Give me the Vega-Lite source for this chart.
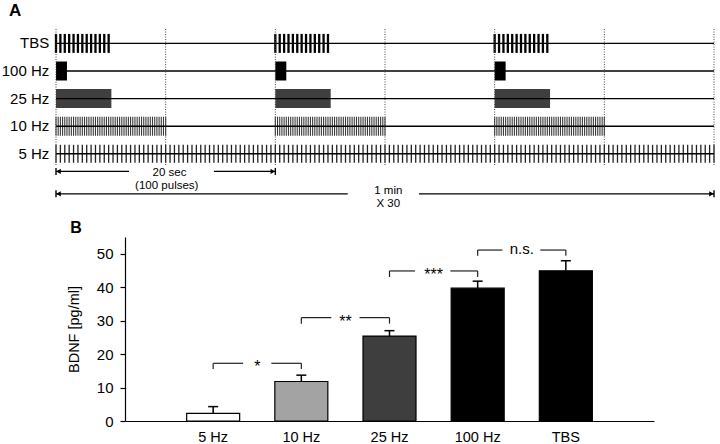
{
  "$schema": "https://vega.github.io/schema/vega-lite/v6.json",
  "background": "white",
  "padding": {"left": 1, "top": 1, "right": 0, "bottom": 0},
  "spacing": 10,
  "config": {
    "view": {"stroke": null},
    "font": "Liberation Sans",
    "text": {"font": "Liberation Sans", "color": "#000"},
    "axisX": {"labels": false, "ticks": false, "grid": false, "domainColor": "#000", "domainWidth": 1.2},
    "axisY": {"grid": false, "tickSize": 5, "labelPadding": 7, "titlePadding": 15, "labelFontSize": 15, "titleFontSize": 14.5, "titleFontWeight": "normal",
              "domainColor": "#000", "tickColor": "#000", "labelColor": "#000", "titleColor": "#000", "domainWidth": 1.2, "tickWidth": 1.2,
              "labelFont": "Liberation Sans", "titleFont": "Liberation Sans", "labelOverlap": false}
  },
  "datasets": {
    "lanes": [{"s": "TBS", "lane": 1}, {"s": "100 Hz", "lane": 2}, {"s": "25 Hz", "lane": 3}, {"s": "10 Hz", "lane": 4}, {"s": "5 Hz", "lane": 5}],
    "blocks": [
      {"s": "100 Hz", "lane": 2, "t0": 0, "t1": 1}, {"s": "100 Hz", "lane": 2, "t0": 20, "t1": 21}, {"s": "100 Hz", "lane": 2, "t0": 40, "t1": 41},
      {"s": "25 Hz", "lane": 3, "t0": 0, "t1": 5.05}, {"s": "25 Hz", "lane": 3, "t0": 20, "t1": 25.05}, {"s": "25 Hz", "lane": 3, "t0": 40, "t1": 45.05}
    ],
    "tbs": [{"t":0},{"t":0.4},{"t":0.8},{"t":1.2},{"t":1.6},{"t":2},{"t":2.4},{"t":2.8},{"t":3.2},{"t":3.6},{"t":4},{"t":4.4},{"t":4.8},
      {"t":20},{"t":20.4},{"t":20.8},{"t":21.2},{"t":21.6},{"t":22},{"t":22.4},{"t":22.8},{"t":23.2},{"t":23.6},{"t":24},{"t":24.4},{"t":24.8},
      {"t":40},{"t":40.4},{"t":40.8},{"t":41.2},{"t":41.6},{"t":42},{"t":42.4},{"t":42.8},{"t":43.2},{"t":43.6},{"t":44},{"t":44.4},{"t":44.8}],
    "hz10": [{"t":0},{"t":0.2},{"t":0.4},{"t":0.6},{"t":0.8},{"t":1},{"t":1.2},{"t":1.4},{"t":1.6},{"t":1.8},{"t":2},{"t":2.2},{"t":2.4},{"t":2.6},{"t":2.8},{"t":3},{"t":3.2},{"t":3.4},{"t":3.6},{"t":3.8},{"t":4},{"t":4.2},{"t":4.4},{"t":4.6},{"t":4.8},{"t":5},{"t":5.2},{"t":5.4},{"t":5.6},{"t":5.8},{"t":6},{"t":6.2},{"t":6.4},{"t":6.6},{"t":6.8},{"t":7},{"t":7.2},{"t":7.4},{"t":7.6},{"t":7.8},{"t":8},{"t":8.2},{"t":8.4},{"t":8.6},{"t":8.8},{"t":9},{"t":9.2},{"t":9.4},{"t":9.6},{"t":9.8},{"t":10},
      {"t":20},{"t":20.2},{"t":20.4},{"t":20.6},{"t":20.8},{"t":21},{"t":21.2},{"t":21.4},{"t":21.6},{"t":21.8},{"t":22},{"t":22.2},{"t":22.4},{"t":22.6},{"t":22.8},{"t":23},{"t":23.2},{"t":23.4},{"t":23.6},{"t":23.8},{"t":24},{"t":24.2},{"t":24.4},{"t":24.6},{"t":24.8},{"t":25},{"t":25.2},{"t":25.4},{"t":25.6},{"t":25.8},{"t":26},{"t":26.2},{"t":26.4},{"t":26.6},{"t":26.8},{"t":27},{"t":27.2},{"t":27.4},{"t":27.6},{"t":27.8},{"t":28},{"t":28.2},{"t":28.4},{"t":28.6},{"t":28.8},{"t":29},{"t":29.2},{"t":29.4},{"t":29.6},{"t":29.8},{"t":30},
      {"t":40},{"t":40.2},{"t":40.4},{"t":40.6},{"t":40.8},{"t":41},{"t":41.2},{"t":41.4},{"t":41.6},{"t":41.8},{"t":42},{"t":42.2},{"t":42.4},{"t":42.6},{"t":42.8},{"t":43},{"t":43.2},{"t":43.4},{"t":43.6},{"t":43.8},{"t":44},{"t":44.2},{"t":44.4},{"t":44.6},{"t":44.8},{"t":45},{"t":45.2},{"t":45.4},{"t":45.6},{"t":45.8},{"t":46},{"t":46.2},{"t":46.4},{"t":46.6},{"t":46.8},{"t":47},{"t":47.2},{"t":47.4},{"t":47.6},{"t":47.8},{"t":48},{"t":48.2},{"t":48.4},{"t":48.6},{"t":48.8},{"t":49},{"t":49.2},{"t":49.4},{"t":49.6},{"t":49.8},{"t":50}],
    "hz5": [{"t":0},{"t":0.4},{"t":0.8},{"t":1.2},{"t":1.6},{"t":2},{"t":2.4},{"t":2.8},{"t":3.2},{"t":3.6},{"t":4},{"t":4.4},{"t":4.8},{"t":5.2},{"t":5.6},{"t":6},{"t":6.4},{"t":6.8},{"t":7.2},{"t":7.6},{"t":8},{"t":8.4},{"t":8.8},{"t":9.2},{"t":9.6},{"t":10},{"t":10.4},{"t":10.8},{"t":11.2},{"t":11.6},{"t":12},{"t":12.4},{"t":12.8},{"t":13.2},{"t":13.6},{"t":14},{"t":14.4},{"t":14.8},{"t":15.2},{"t":15.6},{"t":16},{"t":16.4},{"t":16.8},{"t":17.2},{"t":17.6},{"t":18},{"t":18.4},{"t":18.8},{"t":19.2},{"t":19.6},{"t":20},{"t":20.4},{"t":20.8},{"t":21.2},{"t":21.6},{"t":22},{"t":22.4},{"t":22.8},{"t":23.2},{"t":23.6},{"t":24},{"t":24.4},{"t":24.8},{"t":25.2},{"t":25.6},{"t":26},{"t":26.4},{"t":26.8},{"t":27.2},{"t":27.6},{"t":28},{"t":28.4},{"t":28.8},{"t":29.2},{"t":29.6},{"t":30},{"t":30.4},{"t":30.8},{"t":31.2},{"t":31.6},{"t":32},{"t":32.4},{"t":32.8},{"t":33.2},{"t":33.6},{"t":34},{"t":34.4},{"t":34.8},{"t":35.2},{"t":35.6},{"t":36},{"t":36.4},{"t":36.8},{"t":37.2},{"t":37.6},{"t":38},{"t":38.4},{"t":38.8},{"t":39.2},{"t":39.6},{"t":40},{"t":40.4},{"t":40.8},{"t":41.2},{"t":41.6},{"t":42},{"t":42.4},{"t":42.8},{"t":43.2},{"t":43.6},{"t":44},{"t":44.4},{"t":44.8},{"t":45.2},{"t":45.6},{"t":46},{"t":46.4},{"t":46.8},{"t":47.2},{"t":47.6},{"t":48},{"t":48.4},{"t":48.8},{"t":49.2},{"t":49.6},{"t":50},{"t":50.4},{"t":50.8},{"t":51.2},{"t":51.6},{"t":52},{"t":52.4},{"t":52.8},{"t":53.2},{"t":53.6},{"t":54},{"t":54.4},{"t":54.8},{"t":55.2},{"t":55.6},{"t":56},{"t":56.4},{"t":56.8},{"t":57.2},{"t":57.6},{"t":58},{"t":58.4},{"t":58.8},{"t":59.2},{"t":59.6},{"t":60}],
    "grid10": [{"t":0},{"t":10},{"t":20},{"t":30},{"t":40},{"t":50},{"t":60}],
    "arrows": [{"a":0,"b":6.66,"lv":5.64},{"a":14.4,"b":20,"lv":5.64},{"a":0,"b":26.6,"lv":6.45},{"a":33.1,"b":60,"lv":6.45}],
    "heads": [{"t":0,"lv":5.64,"dir":"left"},{"t":20,"lv":5.64,"dir":"right"},{"t":0,"lv":6.45,"dir":"left"},{"t":60,"lv":6.45,"dir":"right"}],
    "notes": [{"t":10.35,"lv":5.69,"txt":"20 sec"},{"t":10.1,"lv":6.16,"txt":"(100 pulses)"},{"t":30.3,"lv":6.35,"txt":"1 min"},{"t":30.3,"lv":6.82,"txt":"X 30"}],
    "bdnf": [
      {"cond":"5 Hz","pos":1,"mean":2.3,"hi":4.3},
      {"cond":"10 Hz","pos":2,"mean":11.8,"hi":13.7},
      {"cond":"25 Hz","pos":3,"mean":25.4,"hi":27.0},
      {"cond":"100 Hz","pos":4,"mean":39.7,"hi":41.8},
      {"cond":"TBS","pos":5,"mean":44.9,"hi":47.9}
    ],
    "brk": [
      {"x":1,"x2":1,"y":15.55,"y2":17.25},{"x":1,"x2":1.34,"y":17.25,"y2":17.25},{"x":1.66,"x2":2,"y":17.25,"y2":17.25},{"x":2,"x2":2,"y":17.25,"y2":15.55},
      {"x":2,"x2":2,"y":29.1,"y2":30.9},{"x":2,"x2":2.34,"y":30.9,"y2":30.9},{"x":2.66,"x2":3,"y":30.9,"y2":30.9},{"x":3,"x2":3,"y":30.9,"y2":29.1},
      {"x":3,"x2":3,"y":43.05,"y2":44.85},{"x":3,"x2":3.29,"y":44.85,"y2":44.85},{"x":3.69,"x2":4,"y":44.85,"y2":44.85},{"x":4,"x2":4,"y":44.85,"y2":43.05},
      {"x":4,"x2":4,"y":49.4,"y2":51.1},{"x":4,"x2":4.28,"y":51.1,"y2":51.1},{"x":4.71,"x2":5,"y":51.1,"y2":51.1},{"x":5,"x2":5,"y":51.1,"y2":49.4}
    ],
    "sig": [{"x":1.5,"y":17.25,"txt":"*"},{"x":2.5,"y":30.9,"txt":"**"},{"x":3.5,"y":44.85,"txt":"***"},{"x":4.5,"y":51.1,"txt":"n.s."}]
  },
  "vconcat": [
    {
      "width": 589,
      "height": 207,
      "layer": [
        {
          "data": {"name": "blocks"},
          "transform": [{"filter": "datum.s == '100 Hz'"}],
          "mark": {"type": "bar", "orient": "horizontal", "size": 19, "color": "#000"},
          "encoding": {
            "x": {"field": "t0", "type": "quantitative", "scale": {"domain": [0, 60], "range": [-69, 589], "nice": false, "zero": false, "padding": 0}, "axis": null},
            "x2": {"field": "t1"},
            "y": {"field": "lane", "type": "quantitative", "scale": {"domain": [-0.5, 7], "reverse": true, "nice": false, "zero": false, "padding": 0}, "axis": null}
          }
        },
        {
          "data": {"name": "blocks"},
          "transform": [{"filter": "datum.s == '25 Hz'"}],
          "mark": {"type": "bar", "orient": "horizontal", "size": 19, "color": "#3f3f3f"},
          "encoding": {
            "x": {"field": "t0", "type": "quantitative", "scale": {"domain": [0, 60], "range": [-69, 589], "nice": false, "zero": false, "padding": 0}, "axis": null},
            "x2": {"field": "t1"},
            "y": {"field": "lane", "type": "quantitative", "scale": {"domain": [-0.5, 7], "reverse": true, "nice": false, "zero": false, "padding": 0}, "axis": null}
          }
        },
        {
          "data": {"name": "tbs"},
          "mark": {"type": "tick", "orient": "vertical", "size": 19, "thickness": 2.3, "color": "#000", "opacity": 1},
          "encoding": {
            "x": {"field": "t", "type": "quantitative", "scale": {"domain": [0, 60], "range": [-69, 589], "nice": false, "zero": false, "padding": 0}, "axis": null},
            "y": {"datum": 1, "type": "quantitative", "scale": {"domain": [-0.5, 7], "reverse": true, "nice": false, "zero": false, "padding": 0}, "axis": null}
          }
        },
        {
          "data": {"name": "hz10"},
          "mark": {"type": "tick", "orient": "vertical", "size": 19, "thickness": 1.1, "color": "#3a3a3a", "opacity": 1},
          "encoding": {
            "x": {"field": "t", "type": "quantitative", "scale": {"domain": [0, 60], "range": [-69, 589], "nice": false, "zero": false, "padding": 0}, "axis": null},
            "y": {"datum": 4, "type": "quantitative", "scale": {"domain": [-0.5, 7], "reverse": true, "nice": false, "zero": false, "padding": 0}, "axis": null}
          }
        },
        {
          "data": {"name": "hz5"},
          "mark": {"type": "tick", "orient": "vertical", "size": 18, "thickness": 1.3, "color": "#222", "opacity": 1},
          "encoding": {
            "x": {"field": "t", "type": "quantitative", "scale": {"domain": [0, 60], "range": [-69, 589], "nice": false, "zero": false, "padding": 0}, "axis": null},
            "y": {"datum": 5, "type": "quantitative", "scale": {"domain": [-0.5, 7], "reverse": true, "nice": false, "zero": false, "padding": 0}, "axis": null}
          }
        },
        {
          "data": {"name": "lanes"},
          "mark": {"type": "rule", "color": "#000", "strokeWidth": 1.4},
          "encoding": {
            "x": {"datum": 0, "type": "quantitative", "scale": {"domain": [0, 60], "range": [-69, 589], "nice": false, "zero": false, "padding": 0}, "axis": null},
            "x2": {"datum": 60},
            "y": {"field": "lane", "type": "quantitative", "scale": {"domain": [-0.5, 7], "reverse": true, "nice": false, "zero": false, "padding": 0}, "axis": null}
          }
        },
        {
          "data": {"name": "grid10"},
          "mark": {"type": "rule", "color": "#444", "strokeWidth": 1, "strokeDash": [1, 1.5]},
          "encoding": {
            "x": {"field": "t", "type": "quantitative", "scale": {"domain": [0, 60], "range": [-69, 589], "nice": false, "zero": false, "padding": 0}, "axis": null},
            "y": {"datum": 0.48, "type": "quantitative", "scale": {"domain": [-0.5, 7], "reverse": true, "nice": false, "zero": false, "padding": 0}, "axis": null},
            "y2": {"datum": 5.45}
          }
        },
        {
          "data": {"name": "lanes"},
          "mark": {"type": "text", "align": "right", "baseline": "middle", "fontSize": 15},
          "encoding": {
            "x": {"datum": -0.61, "type": "quantitative", "scale": {"domain": [0, 60], "range": [-69, 589], "nice": false, "zero": false, "padding": 0}, "axis": null},
            "y": {"field": "lane", "type": "quantitative", "scale": {"domain": [-0.5, 7], "reverse": true, "nice": false, "zero": false, "padding": 0}, "axis": null},
            "text": {"field": "s"}
          }
        },
        {
          "data": {"values": [{"txt": "A"}]},
          "mark": {"type": "text", "align": "left", "baseline": "middle", "fontSize": 17, "fontWeight": "bold"},
          "encoding": {
            "x": {"datum": -4.29, "type": "quantitative", "scale": {"domain": [0, 60], "range": [-69, 589], "nice": false, "zero": false, "padding": 0}, "axis": null},
            "y": {"datum": -0.19, "type": "quantitative", "scale": {"domain": [-0.5, 7], "reverse": true, "nice": false, "zero": false, "padding": 0}, "axis": null},
            "text": {"field": "txt"}
          }
        },
        {
          "data": {"name": "arrows"},
          "mark": {"type": "rule", "color": "#000", "strokeWidth": 1.2},
          "encoding": {
            "x": {"field": "a", "type": "quantitative", "scale": {"domain": [0, 60], "range": [-69, 589], "nice": false, "zero": false, "padding": 0}, "axis": null},
            "x2": {"field": "b"},
            "y": {"field": "lv", "type": "quantitative", "scale": {"domain": [-0.5, 7], "reverse": true, "nice": false, "zero": false, "padding": 0}, "axis": null}
          }
        },
        {
          "data": {"name": "heads"},
          "transform": [{"filter": "datum.dir == 'left'"}],
          "mark": {"type": "point", "shape": "triangle-left", "filled": true, "size": 28, "color": "#000", "opacity": 1, "xOffset": 2.5},
          "encoding": {
            "x": {"field": "t", "type": "quantitative", "scale": {"domain": [0, 60], "range": [-69, 589], "nice": false, "zero": false, "padding": 0}, "axis": null},
            "y": {"field": "lv", "type": "quantitative", "scale": {"domain": [-0.5, 7], "reverse": true, "nice": false, "zero": false, "padding": 0}, "axis": null}
          }
        },
        {
          "data": {"name": "heads"},
          "transform": [{"filter": "datum.dir == 'right'"}],
          "mark": {"type": "point", "shape": "triangle-right", "filled": true, "size": 28, "color": "#000", "opacity": 1, "xOffset": -2.5},
          "encoding": {
            "x": {"field": "t", "type": "quantitative", "scale": {"domain": [0, 60], "range": [-69, 589], "nice": false, "zero": false, "padding": 0}, "axis": null},
            "y": {"field": "lv", "type": "quantitative", "scale": {"domain": [-0.5, 7], "reverse": true, "nice": false, "zero": false, "padding": 0}, "axis": null}
          }
        },
        {
          "data": {"name": "heads"},
          "mark": {"type": "tick", "orient": "vertical", "size": 7, "thickness": 1.4, "color": "#000", "opacity": 1},
          "encoding": {
            "x": {"field": "t", "type": "quantitative", "scale": {"domain": [0, 60], "range": [-69, 589], "nice": false, "zero": false, "padding": 0}, "axis": null},
            "y": {"field": "lv", "type": "quantitative", "scale": {"domain": [-0.5, 7], "reverse": true, "nice": false, "zero": false, "padding": 0}, "axis": null}
          }
        },
        {
          "data": {"name": "notes"},
          "mark": {"type": "text", "align": "center", "baseline": "middle", "fontSize": 11.5},
          "encoding": {
            "x": {"field": "t", "type": "quantitative", "scale": {"domain": [0, 60], "range": [-69, 589], "nice": false, "zero": false, "padding": 0}, "axis": null},
            "y": {"field": "lv", "type": "quantitative", "scale": {"domain": [-0.5, 7], "reverse": true, "nice": false, "zero": false, "padding": 0}, "axis": null},
            "text": {"field": "txt"}
          }
        }
      ]
    },
    {
      "width": 529,
      "height": 184,
      "layer": [
        {
          "data": {"name": "bdnf"},
          "mark": {"type": "bar", "orient": "vertical", "size": 53, "stroke": "#000", "strokeWidth": 1.2},
          "encoding": {
            "x": {"field": "pos", "type": "quantitative", "title": null, "scale": {"domain": [0, 6], "nice": false, "zero": false, "padding": 0}, "axis": {"title": null}},
            "y": {"field": "mean", "type": "quantitative", "title": "BDNF [pg/ml]", "stack": null, "scale": {"domain": [0, 55], "nice": false, "padding": 0}, "axis": {"values": [0, 10, 20, 30, 40, 50], "title": "BDNF [pg/ml]"}},
            "color": {"field": "cond", "type": "nominal", "scale": {"domain": ["5 Hz", "10 Hz", "25 Hz", "100 Hz", "TBS"], "range": ["#ffffff", "#a3a3a3", "#3e3e3e", "#000000", "#000000"]}, "legend": null}
          }
        },
        {
          "data": {"name": "bdnf"},
          "mark": {"type": "rule", "color": "#000", "strokeWidth": 1.5},
          "encoding": {
            "x": {"field": "pos", "type": "quantitative", "title": null, "scale": {"domain": [0, 6], "nice": false, "zero": false, "padding": 0}, "axis": {"title": null}},
            "y": {"field": "mean", "type": "quantitative", "title": "BDNF [pg/ml]", "scale": {"domain": [0, 55], "nice": false, "padding": 0}, "axis": {"values": [0, 10, 20, 30, 40, 50], "title": "BDNF [pg/ml]"}},
            "y2": {"field": "hi"}
          }
        },
        {
          "data": {"name": "bdnf"},
          "mark": {"type": "tick", "orient": "horizontal", "size": 10, "thickness": 1.5, "color": "#000", "opacity": 1},
          "encoding": {
            "x": {"field": "pos", "type": "quantitative", "title": null, "scale": {"domain": [0, 6], "nice": false, "zero": false, "padding": 0}, "axis": {"title": null}},
            "y": {"field": "hi", "type": "quantitative", "title": "BDNF [pg/ml]", "scale": {"domain": [0, 55], "nice": false, "padding": 0}, "axis": {"values": [0, 10, 20, 30, 40, 50], "title": "BDNF [pg/ml]"}}
          }
        },
        {
          "data": {"name": "brk"},
          "mark": {"type": "rule", "color": "#222", "strokeWidth": 1.2},
          "encoding": {
            "x": {"field": "x", "type": "quantitative", "title": null, "scale": {"domain": [0, 6], "nice": false, "zero": false, "padding": 0}, "axis": {"title": null}},
            "x2": {"field": "x2"},
            "y": {"field": "y", "type": "quantitative", "title": "BDNF [pg/ml]", "scale": {"domain": [0, 55], "nice": false, "padding": 0}, "axis": {"values": [0, 10, 20, 30, 40, 50], "title": "BDNF [pg/ml]"}},
            "y2": {"field": "y2"}
          }
        },
        {
          "data": {"name": "sig"},
          "transform": [{"filter": "datum.txt != 'n.s.'"}],
          "mark": {"type": "text", "align": "center", "baseline": "alphabetic", "fontSize": 16, "dy": 9},
          "encoding": {
            "x": {"field": "x", "type": "quantitative", "title": null, "scale": {"domain": [0, 6], "nice": false, "zero": false, "padding": 0}, "axis": {"title": null}},
            "y": {"field": "y", "type": "quantitative", "title": "BDNF [pg/ml]", "scale": {"domain": [0, 55], "nice": false, "padding": 0}, "axis": {"values": [0, 10, 20, 30, 40, 50], "title": "BDNF [pg/ml]"}},
            "text": {"field": "txt"}
          }
        },
        {
          "data": {"name": "sig"},
          "transform": [{"filter": "datum.txt == 'n.s.'"}],
          "mark": {"type": "text", "align": "center", "baseline": "alphabetic", "fontSize": 15, "dy": 4},
          "encoding": {
            "x": {"field": "x", "type": "quantitative", "title": null, "scale": {"domain": [0, 6], "nice": false, "zero": false, "padding": 0}, "axis": {"title": null}},
            "y": {"field": "y", "type": "quantitative", "title": "BDNF [pg/ml]", "scale": {"domain": [0, 55], "nice": false, "padding": 0}, "axis": {"values": [0, 10, 20, 30, 40, 50], "title": "BDNF [pg/ml]"}},
            "text": {"field": "txt"}
          }
        },
        {
          "data": {"name": "bdnf"},
          "mark": {"type": "text", "align": "center", "baseline": "middle", "fontSize": 14.5},
          "encoding": {
            "x": {"field": "pos", "type": "quantitative", "title": null, "scale": {"domain": [0, 6], "nice": false, "zero": false, "padding": 0}, "axis": {"title": null}},
            "y": {"datum": -5, "type": "quantitative", "title": "BDNF [pg/ml]", "scale": {"domain": [0, 55], "nice": false, "padding": 0}, "axis": {"values": [0, 10, 20, 30, 40, 50], "title": "BDNF [pg/ml]"}},
            "text": {"field": "cond"}
          }
        },
        {
          "data": {"values": [{"txt": "B"}]},
          "mark": {"type": "text", "align": "left", "baseline": "middle", "fontSize": 16, "fontWeight": "bold"},
          "encoding": {
            "x": {"datum": -0.62, "type": "quantitative", "title": null, "scale": {"domain": [0, 6], "nice": false, "zero": false, "padding": 0}, "axis": {"title": null}},
            "y": {"datum": 57.55, "type": "quantitative", "title": "BDNF [pg/ml]", "scale": {"domain": [0, 55], "nice": false, "padding": 0}, "axis": {"values": [0, 10, 20, 30, 40, 50], "title": "BDNF [pg/ml]"}},
            "text": {"field": "txt"}
          }
        }
      ]
    }
  ]
}
